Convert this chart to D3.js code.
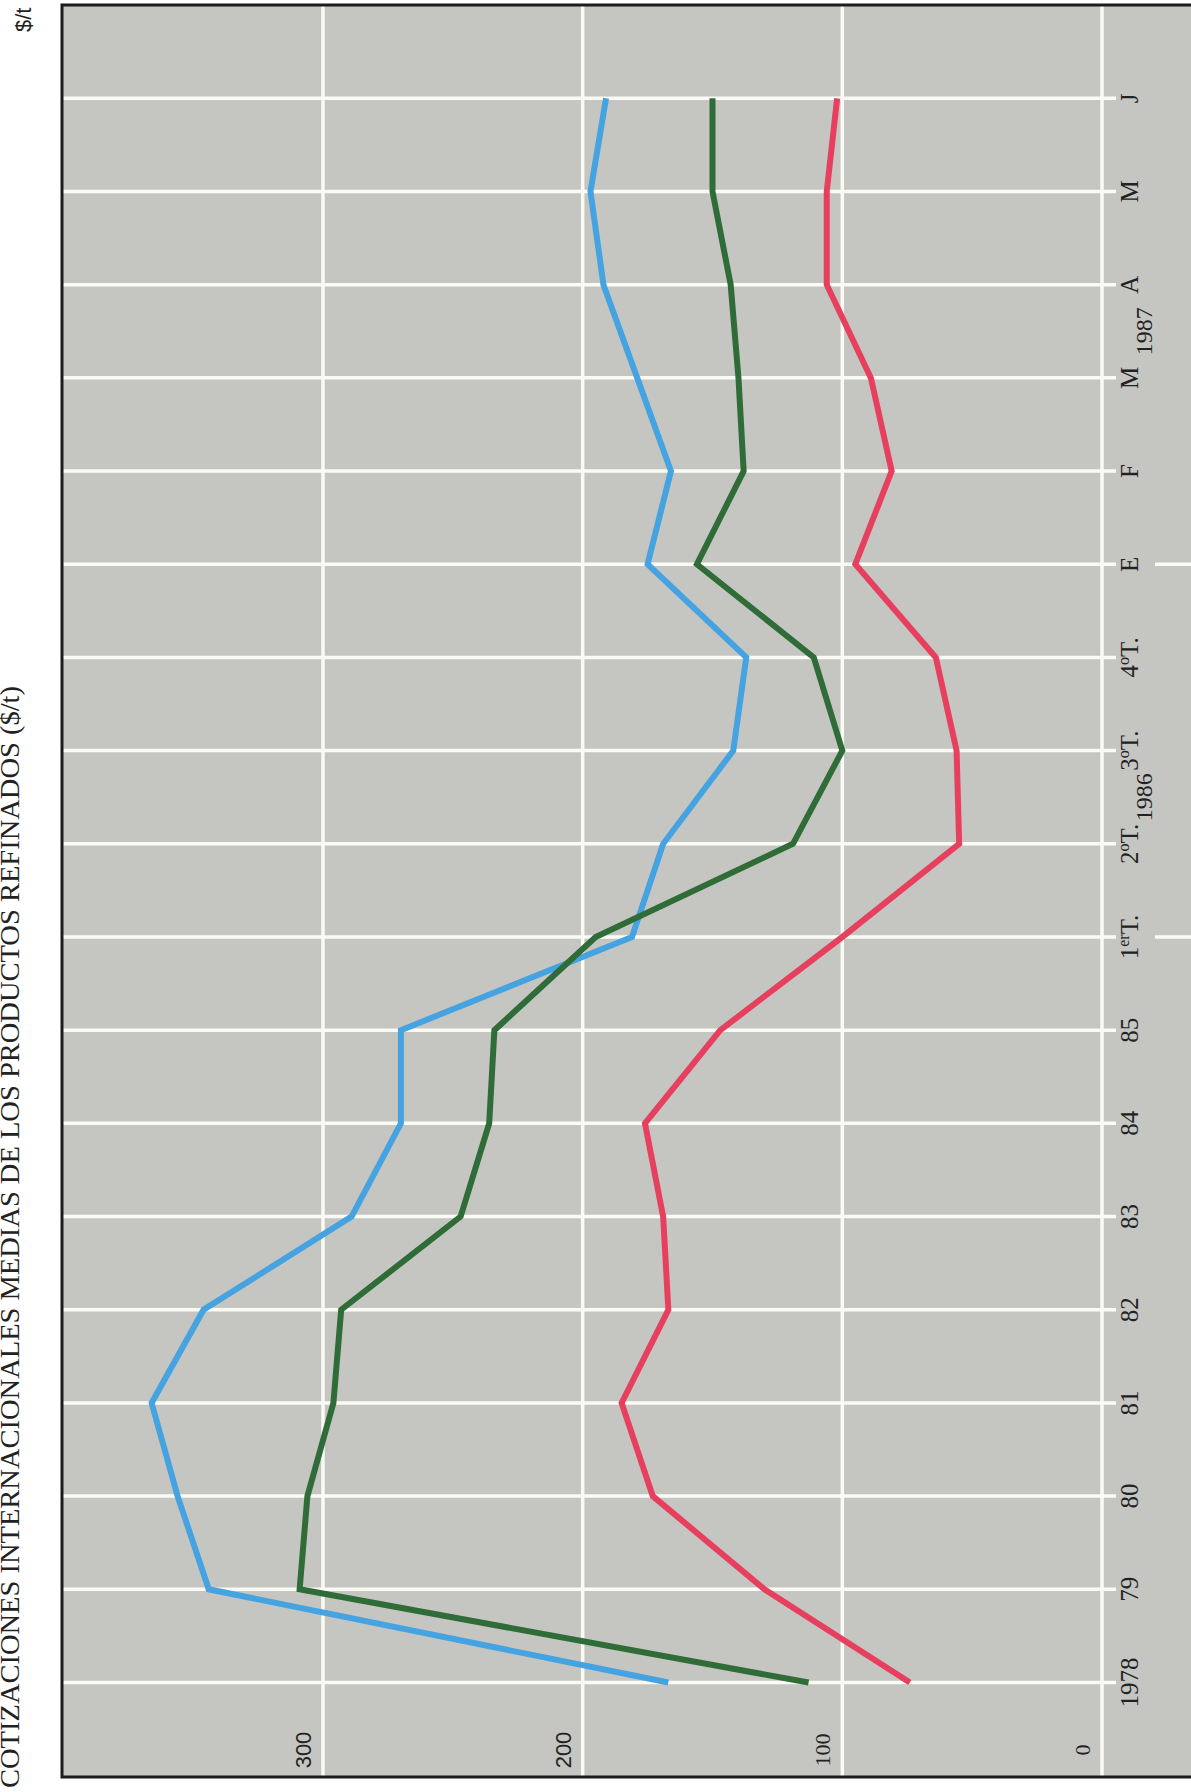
<!DOCTYPE html>
<html><head><meta charset="utf-8">
<script src="https://cdn.jsdelivr.net/npm/d3@7"></script>
<style>html,body{margin:0;padding:0;background:#fff;} svg{display:block}</style>
</head><body>
<script>
// ---- data ----
const periods = ["1978","79","80","81","82","83","84","85","1^erT.","2^oT.","3^oT.","4^oT.","E","F","M","A","M","J"];
const valueTicks = [0, 100, 200, 300];
const blueSeries  = [167, 344, 356, 366, 346, 289, 270, 270, 181, 169, 142, 137, 175, 166, 179, 192, 197, 191];
const greenSeries = [113, 309, 306, 296, 293, 247, 236, 234, 195, 119, 100, 111, 156, 138, 140, 143, 150, 150];
const redSeries   = [ 74, 130, 173, 185, 167, 169, 176, 147, 100,  55,  56,  64,  95,  81,  89, 106, 106, 102];
const yearLabels = ["1986", "1987"];
const yearPositions = [9.5, 14.5];          // between period indices
const yearBreaks = [8, 12];                 // periods starting a new year
const titleText = "COTIZACIONES INTERNACIONALES MEDIAS DE LOS PRODUCTOS REFINADOS ($/t)";
const unitText = "$/t";

const W = 1191, H = 1792;
const svg = d3.select("body").append("svg").attr("width", W).attr("height", H);

const plotL = 62, plotT = 5, plotB = 1777, plotR = W;
const x = d3.scaleLinear().domain([0, 300]).range([1102, 323]);
const y = d3.scaleLinear().domain([0, 17]).range([1682.5, 98.3]);

// background
svg.append("rect").attr("x", plotL).attr("y", plotT).attr("width", plotR - plotL).attr("height", plotB - plotT)
  .attr("fill", "#c5c6c2");

const grid = svg.append("g").attr("stroke", "#fbfbf6").attr("stroke-width", 3.5);
// vertical value gridlines
grid.selectAll("line.v").data(valueTicks).join("line")
  .attr("x1", d => x(d)).attr("x2", d => x(d)).attr("y1", plotT).attr("y2", plotB);
// horizontal period gridlines
grid.selectAll("line.h").data(periods).join("line")
  .attr("x1", plotL).attr("x2", 1116).attr("y1", (d, i) => y(i)).attr("y2", (d, i) => y(i));
// year separators continue past the labels
grid.selectAll("line.yb").data(yearBreaks).join("line")
  .attr("x1", 1155).attr("x2", W).attr("y1", d => y(d)).attr("y2", d => y(d));

// series
const line = d3.line().x(d => x(d)).y((d, i) => y(i));
const series = [
  {vals: blueSeries, color: "#45a3e2"},
  {vals: greenSeries, color: "#2f6c38"},
  {vals: redSeries, color: "#e7405f"}
];
svg.append("g").selectAll("path").data(series).join("path")
  .attr("d", d => line(d.vals)).attr("fill", "none")
  .attr("stroke", d => d.color).attr("stroke-width", 6)
  .attr("stroke-linejoin", "miter").attr("stroke-linecap", "butt");

// border
const border = svg.append("g").attr("stroke", "#1c1c1c").attr("stroke-width", 3).attr("fill", "none");
border.append("path").attr("d", `M${W},${plotT}H${plotL}V${plotB}H${W}`);

// value labels
svg.append("g").selectAll("text").data(valueTicks).join("text")
  .attr("transform", d => `translate(${x(d) - 12},1750) rotate(-90)`)
  .attr("text-anchor", "middle")
  .attr("font-family", d => d >= 200 ? "Liberation Sans, Arial, sans-serif" : "Liberation Serif, Times New Roman, serif")
  .attr("font-size", 22).attr("fill", "#222")
  .text(d => d);

// period labels
const pl = svg.append("g").attr("font-family", "Liberation Serif, Times New Roman, serif")
  .attr("font-size", 25).attr("fill", "#222");
periods.forEach((p, i) => {
  const t = pl.append("text").attr("transform", `translate(1138,${y(i)}) rotate(-90)`)
    .attr("text-anchor", "middle");
  const m = p.match(/^(\d)\^([a-z]+)(.*)$/);
  if (m) {
    t.append("tspan").text(m[1]);
    t.append("tspan").attr("font-size", 16).attr("dy", -9).text(m[2]);
    t.append("tspan").attr("dy", 9).text(m[3]);
  } else {
    t.text(p);
  }
});
// year labels
pl.selectAll("text.yr").data(yearLabels).join("text")
  .attr("transform", (d, i) => `translate(1152,${y(yearPositions[i])}) rotate(-90)`)
  .attr("text-anchor", "middle").attr("font-size", 24).text(d => d);

// title
svg.append("text").attr("transform", "translate(19,1788) rotate(-90)")
  .attr("font-family", "Liberation Serif, Times New Roman, serif")
  .attr("font-size", 27).attr("fill", "#222")
  .attr("textLength", 1102).attr("lengthAdjust", "spacingAndGlyphs")
  .text(titleText);
svg.append("text").attr("transform", "translate(31,32) rotate(-90)")
  .attr("font-family", "Liberation Sans, Arial, sans-serif")
  .attr("font-size", 22).attr("fill", "#222")
  .text(unitText);
</script>
</body></html>
